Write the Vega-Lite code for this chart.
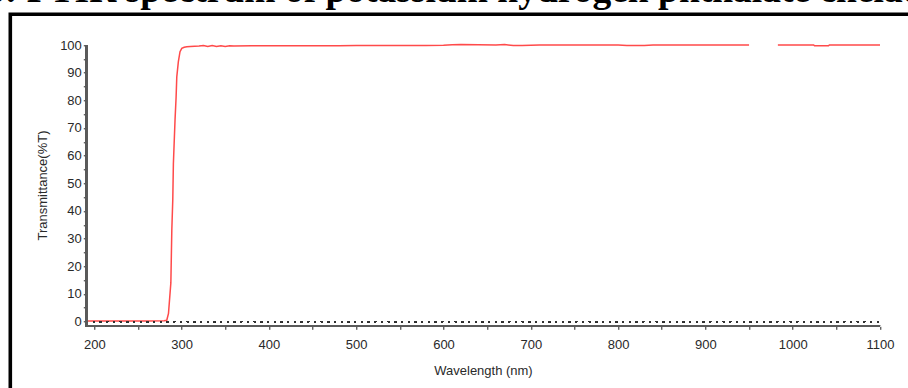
{
  "$schema": "https://vega.github.io/schema/vega-lite/v6.json",
  "width": 920,
  "height": 400,
  "autosize": {"type": "none"},
  "padding": {"left": 10.3, "top": 14.3, "right": 0, "bottom": 0},
  "background": "white",
  "config": {"view": {"stroke": "black", "strokeWidth": 3.6}, "font": "Liberation Sans"},
  "title": {
    "text": "Fig. 6: FTIR spectrum of potassium hydrogen phthalate chelate acetamide",
    "anchor": "start", "dx": -95, "offset": 0, "dy": 25, "baseline": "alphabetic", "limit": 3000,
    "font": "Liberation Serif", "fontSize": 37.5, "fontWeight": "bold", "color": "black"
  },
  "resolve": {"axis": {"x": "independent", "y": "independent"}},
  "data": {"values": [
    {"wl": 190, "T": 0.2, "seg": 1}, {"wl": 200, "T": 0.2, "seg": 1}, {"wl": 220, "T": 0.2, "seg": 1},
    {"wl": 240, "T": 0.2, "seg": 1}, {"wl": 260, "T": 0.2, "seg": 1}, {"wl": 280, "T": 0.3, "seg": 1},
    {"wl": 283, "T": 0.5, "seg": 1}, {"wl": 285, "T": 3, "seg": 1}, {"wl": 287.7, "T": 14, "seg": 1},
    {"wl": 288.8, "T": 33, "seg": 1}, {"wl": 289.9, "T": 44, "seg": 1}, {"wl": 290.6, "T": 57, "seg": 1},
    {"wl": 292.5, "T": 73, "seg": 1}, {"wl": 293.7, "T": 81, "seg": 1}, {"wl": 294.5, "T": 88.5, "seg": 1},
    {"wl": 296.3, "T": 94, "seg": 1}, {"wl": 298.2, "T": 97.6, "seg": 1}, {"wl": 300.2, "T": 98.8, "seg": 1},
    {"wl": 303, "T": 99.2, "seg": 1}, {"wl": 306, "T": 99.4, "seg": 1}, {"wl": 310, "T": 99.5, "seg": 1},
    {"wl": 320, "T": 99.6, "seg": 1}, {"wl": 325, "T": 99.85, "seg": 1}, {"wl": 330, "T": 99.5, "seg": 1},
    {"wl": 335, "T": 99.8, "seg": 1}, {"wl": 340, "T": 99.5, "seg": 1}, {"wl": 345, "T": 99.75, "seg": 1},
    {"wl": 350, "T": 99.5, "seg": 1}, {"wl": 355, "T": 99.7, "seg": 1}, {"wl": 360, "T": 99.6, "seg": 1},
    {"wl": 380, "T": 99.7, "seg": 1}, {"wl": 400, "T": 99.7, "seg": 1}, {"wl": 420, "T": 99.7, "seg": 1},
    {"wl": 440, "T": 99.7, "seg": 1}, {"wl": 460, "T": 99.75, "seg": 1}, {"wl": 480, "T": 99.75, "seg": 1},
    {"wl": 500, "T": 99.8, "seg": 1}, {"wl": 520, "T": 99.8, "seg": 1}, {"wl": 540, "T": 99.8, "seg": 1},
    {"wl": 560, "T": 99.8, "seg": 1}, {"wl": 580, "T": 99.8, "seg": 1}, {"wl": 600, "T": 99.9, "seg": 1},
    {"wl": 610, "T": 100.1, "seg": 1}, {"wl": 620, "T": 100.2, "seg": 1}, {"wl": 640, "T": 100.1, "seg": 1},
    {"wl": 660, "T": 100.0, "seg": 1}, {"wl": 670, "T": 100.2, "seg": 1}, {"wl": 680, "T": 99.8, "seg": 1},
    {"wl": 690, "T": 99.8, "seg": 1}, {"wl": 700, "T": 99.9, "seg": 1}, {"wl": 710, "T": 100.0, "seg": 1},
    {"wl": 730, "T": 100.0, "seg": 1}, {"wl": 760, "T": 100.0, "seg": 1}, {"wl": 780, "T": 100.0, "seg": 1},
    {"wl": 800, "T": 100.0, "seg": 1}, {"wl": 810, "T": 99.8, "seg": 1}, {"wl": 830, "T": 99.8, "seg": 1},
    {"wl": 840, "T": 100.0, "seg": 1}, {"wl": 860, "T": 100.0, "seg": 1}, {"wl": 880, "T": 100.0, "seg": 1},
    {"wl": 900, "T": 100.0, "seg": 1}, {"wl": 920, "T": 100.0, "seg": 1}, {"wl": 950, "T": 100.0, "seg": 1},
    {"wl": 983, "T": 100.0, "seg": 2}, {"wl": 1000, "T": 100.0, "seg": 2}, {"wl": 1024, "T": 100.0, "seg": 2},
    {"wl": 1025, "T": 99.7, "seg": 2}, {"wl": 1041, "T": 99.7, "seg": 2}, {"wl": 1042, "T": 100.0, "seg": 2},
    {"wl": 1060, "T": 100.0, "seg": 2}, {"wl": 1080, "T": 100.0, "seg": 2}, {"wl": 1100, "T": 100.0, "seg": 2}
  ]},
  "layer": [
    {
      "mark": {"type": "line", "color": "#ff4a4a", "strokeWidth": 1.5},
      "encoding": {
        "x": {
          "field": "wl", "type": "quantitative",
          "scale": {"domain": [103.8, 1157.6], "nice": false, "zero": false},
          "axis": {
            "title": "Wavelength (nm)",
            "values": [200, 250, 300, 350, 400, 450, 500, 550, 600, 650, 700, 750, 800, 850, 900, 950, 1000, 1050, 1100],
            "labelExpr": "datum.value % 100 === 0 ? datum.label : ''",
            "format": "d", "domain": false, "grid": false, "offset": -88,
            "tickSize": 3, "tickColor": "#222", "labelPadding": 9.5,
            "labelFontSize": 13, "labelColor": "#2a2a2a", "labelFlush": false, "labelOverlap": false,
            "titleFontSize": 13, "titleFontWeight": "normal", "titleColor": "#2a2a2a",
            "titleX": 472.7, "titleY": 48.7, "titleBaseline": "alphabetic"
          }
        },
        "y": {
          "field": "T", "type": "quantitative",
          "scale": {"domain": [-33.5, 111.1], "nice": false, "zero": false},
          "axis": {
            "title": "Transmittance(%T)",
            "values": [0, 5, 10, 15, 20, 25, 30, 35, 40, 45, 50, 55, 60, 65, 70, 75, 80, 85, 90, 95, 100],
            "labelExpr": "datum.value % 10 === 0 ? datum.label : ''",
            "format": "d", "domain": false, "grid": false, "offset": -76,
            "tickSize": 3, "tickColor": "#222", "labelPadding": 2,
            "labelFontSize": 13, "labelColor": "#2a2a2a", "labelFlush": false, "labelOverlap": false,
            "titleFontSize": 13, "titleFontWeight": "normal", "titleColor": "#2a2a2a",
            "titleX": -44, "titleY": 170.7, "titleBaseline": "middle", "titleAngle": 270
          }
        },
        "detail": {"field": "seg", "type": "nominal"}
      }
    },
    {
      "mark": {"type": "rule", "color": "#333", "strokeWidth": 1.2, "strokeDash": [1.5, 5.2]},
      "encoding": {
        "x": {"datum": 191, "type": "quantitative", "axis": null},
        "x2": {"datum": 1100},
        "y": {"datum": 0, "type": "quantitative", "axis": null}
      }
    },
    {
      "mark": {"type": "rule", "color": "#5a5a5a", "strokeWidth": 1.8},
      "encoding": {
        "x": {"datum": 189.5, "type": "quantitative", "axis": null},
        "x2": {"datum": 1100},
        "y": {"datum": -1.55, "type": "quantitative", "axis": null}
      }
    },
    {
      "mark": {"type": "rule", "color": "#5a5a5a", "strokeWidth": 1.8},
      "encoding": {
        "x": {"datum": 190.8, "type": "quantitative", "axis": null},
        "y": {"datum": -1.55, "type": "quantitative", "axis": null},
        "y2": {"datum": 100}
      }
    }
  ]
}
